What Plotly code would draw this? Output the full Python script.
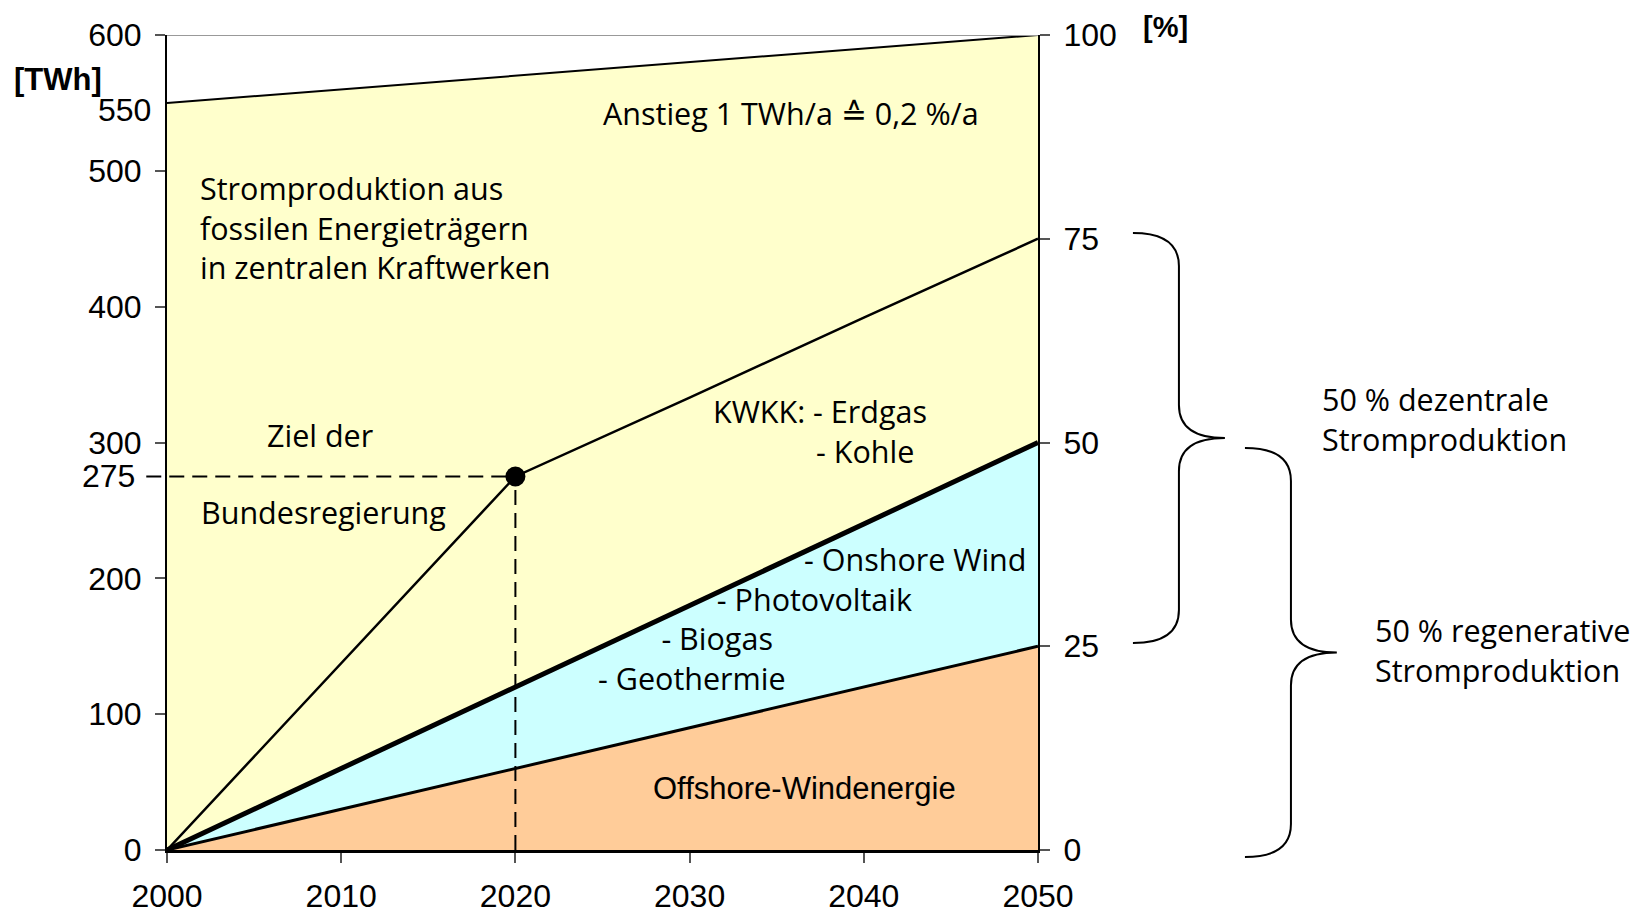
import plotly.graph_objects as go

# ---- data ----
years = [2000, 2010, 2020, 2030, 2040, 2050]
total_twh = [550, 560, 570, 580, 590, 600]
kwkk_twh = [0, 137.5, 275, 333, 392, 450]
regen_twh = [0, 60, 120, 180, 240, 300]
offshore_twh = [0, 30, 60, 90, 120, 150]

target_year = 2020
target_twh = 275

twh_ticks = [0, 100, 200, 300, 400, 500, 600]
pct_ticks = [0, 25, 50, 75, 100]
year_ticks = [2000, 2010, 2020, 2030, 2040, 2050]
extra_twh_labels = [550, 275]

YELLOW = "#FFFFCC"
CYAN = "#CCFFFF"
ORANGE = "#FFCC99"
TXT = "Open Sans"
NUM = "Liberation Sans"
TS = 30.5
NB = "\u00a0"

fig = go.Figure()

fig.add_trace(go.Scatter(x=years, y=total_twh, mode="lines", fill="tozeroy",
                         fillcolor=YELLOW, line=dict(color="black", width=2),
                         hoverinfo="skip"))
fig.add_trace(go.Scatter(x=years, y=regen_twh, mode="lines", fill="tozeroy",
                         fillcolor=CYAN, line=dict(color="black", width=5),
                         hoverinfo="skip"))
fig.add_trace(go.Scatter(x=years, y=offshore_twh, mode="lines", fill="tozeroy",
                         fillcolor=ORANGE, line=dict(color="black", width=3),
                         hoverinfo="skip"))
fig.add_trace(go.Scatter(x=years, y=kwkk_twh, mode="lines",
                         line=dict(color="black", width=2.5), hoverinfo="skip"))
# dashed guide lines to the target point
fig.add_trace(go.Scatter(x=[target_year, target_year], y=[0, target_twh], mode="lines",
                         line=dict(color="black", width=2, dash="15px,8px"),
                         hoverinfo="skip"))
fig.add_trace(go.Scatter(x=[target_year], y=[target_twh], mode="markers",
                         marker=dict(color="black", size=20), hoverinfo="skip"))
# invisible trace for the percent axis
fig.add_trace(go.Scatter(x=[years[-1]] * len(pct_ticks), y=pct_ticks, yaxis="y2",
                         mode="markers", marker=dict(opacity=0), hoverinfo="skip"))

x_frac = (target_year - years[0]) / (years[-1] - years[0])
shapes = [
    dict(type="line", xref="paper", yref="y", x0=-0.0238, x1=x_frac,
         y0=target_twh, y1=target_twh,
         line=dict(color="black", width=2, dash="15px,8px")),
    dict(type="line", xref="x", yref="y", x0=years[0], x1=years[-1],
         y0=600, y1=600, line=dict(color="#999999", width=2)),
]


def brace(xl, xm, xt, yt, yb, ry=0.0405):
    ym = (yt + yb) / 2
    return (f"M {xl} {yt} Q {xm} {yt} {xm} {yt - ry} L {xm} {ym + ry} "
            f"Q {xm} {ym} {xt} {ym} Q {xm} {ym} {xm} {ym - ry} "
            f"L {xm} {yb + ry} Q {xm} {yb} {xl} {yb}")


shapes.append(dict(type="path", xref="paper", yref="paper",
                   path=brace(1.1090, 1.1618, 1.2146, 0.757, 0.254),
                   line=dict(color="black", width=2)))
shapes.append(dict(type="path", xref="paper", yref="paper",
                   path=brace(1.2376, 1.2904, 1.3431, 0.4933, -0.0086),
                   line=dict(color="black", width=2)))

ann = []


def txt(x, y, s, xanchor="left", size=TS, family=TXT, xref="x", yref="y", **kw):
    ann.append(dict(x=x, y=y, text=s, xref=xref, yref=yref, xanchor=xanchor,
                    yanchor="middle", showarrow=False, align="left",
                    font=dict(family=family, size=size, color="black"), **kw))


txt(2001.8, 458, "Stromproduktion aus<br>fossilen Energieträgern<br>in zentralen Kraftwerken")
txt(2035.8, 542.6, "Anstieg 1 TWh/a ≙ 0,2 %/a", xanchor="center")
txt(2008.8, 305.5, "Ziel der", xanchor="center")
txt(2009.0, 249, "Bundesregierung", xanchor="center")
txt(2031.2, 308.5, "KWKK: - Erdgas<br>" + NB * 13 + "- Kohle")
txt(2024.6, 170.4, NB * 26 + "- Onshore Wind<br>" + NB * 15 + "- Photovoltaik<br>"
    + NB * 8 + "- Biogas<br>- Geothermie")
txt(2036.6, 45.6, "Offshore-Windenergie", xanchor="center", size=31, family=NUM)
txt(1.3236, 0.5288, "50 % dezentrale<br>Stromproduktion", xref="paper", yref="paper")
txt(1.3844, 0.2454, "50 % regenerative<br>Stromproduktion", xref="paper", yref="paper")
txt(-0.1248, 0.9448, "<b>[TWh]</b>", xanchor="center", size=31, family=NUM,
    xref="paper", yref="paper")
txt(1.1469, 1.0098, "<b>[%]</b>", xanchor="center", size=29, family=NUM,
    xref="paper", yref="paper")
txt(-0.0157, extra_twh_labels[0], "550", xanchor="right", size=32, family=NUM,
    xref="paper", yshift=-7)
txt(-0.0341, extra_twh_labels[1], "275", xanchor="right", size=32, family=NUM,
    xref="paper")

axis_font = dict(family=NUM, size=32, color="black")
fig.update_layout(
    width=1638, height=913,
    margin=dict(l=158.7, r=608, t=27, b=71),
    plot_bgcolor="white", paper_bgcolor="white",
    showlegend=False,
    xaxis=dict(range=[years[0], years[-1]], tickvals=year_ticks, ticks="outside",
               ticklen=10, tickwidth=2, tickcolor="#555555", showline=True,
               linecolor="black", linewidth=2.5, showgrid=False, zeroline=False,
               tickfont=axis_font, ticklabelstandoff=6, automargin=False),
    yaxis=dict(range=[0, 600], tickvals=twh_ticks, ticks="outside", ticklen=10,
               tickwidth=2, tickcolor="#555555", showline=True, linecolor="black",
               linewidth=2, showgrid=False, zeroline=False, tickfont=axis_font,
               ticklabelstandoff=7, automargin=False),
    yaxis2=dict(range=[0, 100], tickvals=pct_ticks, overlaying="y", side="right",
                anchor="x", ticks="outside", ticklen=10, tickwidth=2,
                tickcolor="#555555", showline=True, linecolor="black", linewidth=2,
                showgrid=False, zeroline=False, tickfont=axis_font,
                ticklabelstandoff=7, automargin=False),
    shapes=shapes, annotations=ann,
)

fig.write_html("out.html")
